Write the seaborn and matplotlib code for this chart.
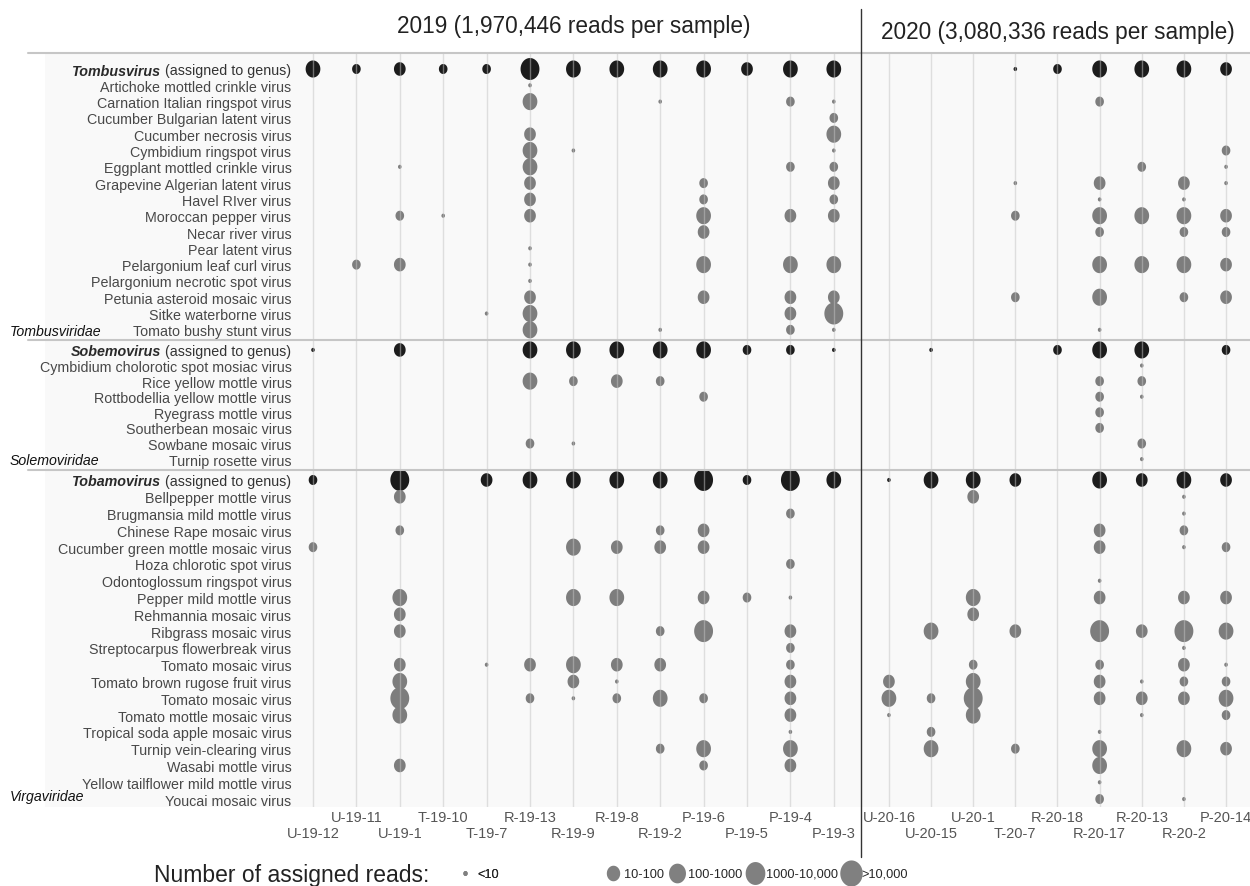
import matplotlib
matplotlib.use("Agg")
import matplotlib.pyplot as plt
import matplotlib.transforms as mtransforms
import numpy as np
import pandas as pd
import seaborn as sns
from matplotlib.lines import Line2D
from matplotlib.patches import Rectangle
from matplotlib.path import Path

samples_2019 = ["U-19-12", "U-19-11", "U-19-1", "T-19-10", "T-19-7", "R-19-13", "R-19-9",
                "R-19-8", "R-19-2", "P-19-6", "P-19-5", "P-19-4", "P-19-3"]
samples_2020 = ["U-20-16", "U-20-15", "U-20-1", "T-20-7", "R-20-18", "R-20-17", "R-20-13",
                "R-20-2", "P-20-14"]
year_titles = ["2019 (1,970,446 reads per sample)", "2020 (3,080,336 reads per sample)"]

read_classes = ["<10", "10-100", "100-1000", "1000-10,000", ">10,000"]

families = ["Tombusviridae", "Solemoviridae", "Virgaviridae"]
genera = ["Tombusvirus", "Sobemovirus", "Tobamovirus"]

tombus_species = ["Artichoke mottled crinkle virus", "Carnation Italian ringspot virus",
                  "Cucumber Bulgarian latent virus", "Cucumber necrosis virus",
                  "Cymbidium ringspot virus", "Eggplant mottled crinkle virus",
                  "Grapevine Algerian latent virus", "Havel RIver virus", "Moroccan pepper virus",
                  "Necar river virus", "Pear latent virus", "Pelargonium leaf curl virus",
                  "Pelargonium necrotic spot virus", "Petunia asteroid mosaic virus",
                  "Sitke waterborne virus", "Tomato bushy stunt virus"]
sobemo_species = ["Cymbidium cholorotic spot mosiac virus", "Rice yellow mottle virus",
                  "Rottbodellia yellow mottle virus", "Ryegrass mottle virus",
                  "Southerbean mosaic virus", "Sowbane mosaic virus", "Turnip rosette virus"]
tobamo_species = ["Bellpepper mottle virus", "Brugmansia mild mottle virus",
                  "Chinese Rape mosaic virus", "Cucumber green mottle mosaic virus",
                  "Hoza chlorotic spot virus", "Odontoglossum ringspot virus",
                  "Pepper mild mottle virus", "Rehmannia mosaic virus", "Ribgrass mosaic virus",
                  "Streptocarpus flowerbreak virus", "Tomato mosaic virus",
                  "Tomato brown rugose fruit virus", "Tomato mosaic virus",
                  "Tomato mottle mosaic virus", "Tropical soda apple mosaic virus",
                  "Turnip vein-clearing virus", "Wasabi mottle virus",
                  "Yellow tailflower mild mottle virus", "Youcai mosaic virus"]

# read class per sample: 0 = none, 1 = <10, 2 = 10-100, 3 = 100-1000, 4 = 1000-10,000, 5 = >10,000
# columns: 13 samples of 2019, then 9 samples of 2020; first row = reads assigned to genus
tombus_reads = [
    [4, 2, 3, 2, 2, 5, 4, 4, 4, 4, 3, 4, 4,  0, 0, 0, 1, 2, 4, 4, 4, 3],
    [0, 0, 0, 0, 0, 1, 0, 0, 0, 0, 0, 0, 0,  0, 0, 0, 0, 0, 0, 0, 0, 0],
    [0, 0, 0, 0, 0, 4, 0, 0, 1, 0, 0, 2, 1,  0, 0, 0, 0, 0, 2, 0, 0, 0],
    [0, 0, 0, 0, 0, 0, 0, 0, 0, 0, 0, 0, 2,  0, 0, 0, 0, 0, 0, 0, 0, 0],
    [0, 0, 0, 0, 0, 3, 0, 0, 0, 0, 0, 0, 4,  0, 0, 0, 0, 0, 0, 0, 0, 0],
    [0, 0, 0, 0, 0, 4, 1, 0, 0, 0, 0, 0, 1,  0, 0, 0, 0, 0, 0, 0, 0, 2],
    [0, 0, 1, 0, 0, 4, 0, 0, 0, 0, 0, 2, 2,  0, 0, 0, 0, 0, 0, 2, 0, 1],
    [0, 0, 0, 0, 0, 3, 0, 0, 0, 2, 0, 0, 3,  0, 0, 0, 1, 0, 3, 0, 3, 1],
    [0, 0, 0, 0, 0, 3, 0, 0, 0, 2, 0, 0, 2,  0, 0, 0, 0, 0, 1, 0, 1, 0],
    [0, 0, 2, 1, 0, 3, 0, 0, 0, 4, 0, 3, 3,  0, 0, 0, 2, 0, 4, 4, 4, 3],
    [0, 0, 0, 0, 0, 0, 0, 0, 0, 3, 0, 0, 0,  0, 0, 0, 0, 0, 2, 0, 2, 2],
    [0, 0, 0, 0, 0, 1, 0, 0, 0, 0, 0, 0, 0,  0, 0, 0, 0, 0, 0, 0, 0, 0],
    [0, 2, 3, 0, 0, 1, 0, 0, 0, 4, 0, 4, 4,  0, 0, 0, 0, 0, 4, 4, 4, 3],
    [0, 0, 0, 0, 0, 1, 0, 0, 0, 0, 0, 0, 0,  0, 0, 0, 0, 0, 0, 0, 0, 0],
    [0, 0, 0, 0, 0, 3, 0, 0, 0, 3, 0, 3, 3,  0, 0, 0, 2, 0, 4, 0, 2, 3],
    [0, 0, 0, 0, 1, 4, 0, 0, 0, 0, 0, 3, 5,  0, 0, 0, 0, 0, 0, 0, 0, 0],
    [0, 0, 0, 0, 0, 4, 0, 0, 1, 0, 0, 2, 1,  0, 0, 0, 0, 0, 1, 0, 0, 0],
]
sobemo_reads = [
    [1, 0, 3, 0, 0, 4, 4, 4, 4, 4, 2, 2, 1,  0, 1, 0, 0, 2, 4, 4, 0, 2],
    [0, 0, 0, 0, 0, 0, 0, 0, 0, 0, 0, 0, 0,  0, 0, 0, 0, 0, 0, 1, 0, 0],
    [0, 0, 0, 0, 0, 4, 2, 3, 2, 0, 0, 0, 0,  0, 0, 0, 0, 0, 2, 2, 0, 0],
    [0, 0, 0, 0, 0, 0, 0, 0, 0, 2, 0, 0, 0,  0, 0, 0, 0, 0, 2, 1, 0, 0],
    [0, 0, 0, 0, 0, 0, 0, 0, 0, 0, 0, 0, 0,  0, 0, 0, 0, 0, 2, 0, 0, 0],
    [0, 0, 0, 0, 0, 0, 0, 0, 0, 0, 0, 0, 0,  0, 0, 0, 0, 0, 2, 0, 0, 0],
    [0, 0, 0, 0, 0, 2, 1, 0, 0, 0, 0, 0, 0,  0, 0, 0, 0, 0, 0, 2, 0, 0],
    [0, 0, 0, 0, 0, 0, 0, 0, 0, 0, 0, 0, 0,  0, 0, 0, 0, 0, 0, 1, 0, 0],
]
tobamo_reads = [
    [2, 0, 5, 0, 3, 4, 4, 4, 4, 5, 2, 5, 4,  1, 4, 4, 3, 0, 4, 3, 4, 3],
    [0, 0, 3, 0, 0, 0, 0, 0, 0, 0, 0, 0, 0,  0, 0, 3, 0, 0, 0, 0, 1, 0],
    [0, 0, 0, 0, 0, 0, 0, 0, 0, 0, 0, 2, 0,  0, 0, 0, 0, 0, 0, 0, 1, 0],
    [0, 0, 2, 0, 0, 0, 0, 0, 2, 3, 0, 0, 0,  0, 0, 0, 0, 0, 3, 0, 2, 0],
    [2, 0, 0, 0, 0, 0, 4, 3, 3, 3, 0, 0, 0,  0, 0, 0, 0, 0, 3, 0, 1, 2],
    [0, 0, 0, 0, 0, 0, 0, 0, 0, 0, 0, 2, 0,  0, 0, 0, 0, 0, 0, 0, 0, 0],
    [0, 0, 0, 0, 0, 0, 0, 0, 0, 0, 0, 0, 0,  0, 0, 0, 0, 0, 1, 0, 0, 0],
    [0, 0, 4, 0, 0, 0, 4, 4, 0, 3, 2, 1, 0,  0, 0, 4, 0, 0, 3, 0, 3, 3],
    [0, 0, 3, 0, 0, 0, 0, 0, 0, 0, 0, 0, 0,  0, 0, 3, 0, 0, 0, 0, 0, 0],
    [0, 0, 3, 0, 0, 0, 0, 0, 2, 5, 0, 3, 0,  0, 4, 0, 3, 0, 5, 3, 5, 4],
    [0, 0, 0, 0, 0, 0, 0, 0, 0, 0, 0, 2, 0,  0, 0, 0, 0, 0, 0, 0, 1, 0],
    [0, 0, 3, 0, 1, 3, 4, 3, 3, 0, 0, 2, 0,  0, 0, 2, 0, 0, 2, 0, 3, 1],
    [0, 0, 4, 0, 0, 0, 3, 1, 0, 0, 0, 3, 0,  3, 0, 4, 0, 0, 3, 1, 2, 2],
    [0, 0, 5, 0, 0, 2, 1, 2, 4, 2, 0, 3, 0,  4, 2, 5, 0, 0, 3, 3, 3, 4],
    [0, 0, 4, 0, 0, 0, 0, 0, 0, 0, 0, 3, 0,  1, 0, 4, 0, 0, 0, 1, 0, 2],
    [0, 0, 0, 0, 0, 0, 0, 0, 0, 0, 0, 1, 0,  0, 2, 0, 0, 0, 1, 0, 0, 0],
    [0, 0, 0, 0, 0, 0, 0, 0, 2, 4, 0, 4, 0,  0, 4, 0, 2, 0, 4, 0, 4, 3],
    [0, 0, 3, 0, 0, 0, 0, 0, 0, 2, 0, 3, 0,  0, 0, 0, 0, 0, 4, 0, 0, 0],
    [0, 0, 0, 0, 0, 0, 0, 0, 0, 0, 0, 0, 0,  0, 0, 0, 0, 0, 1, 0, 0, 0],
    [0, 0, 0, 0, 0, 0, 0, 0, 0, 0, 0, 0, 0,  0, 0, 0, 0, 0, 2, 0, 1, 0],
]

# ---- layout ----
W, H = 1250, 887
samples = samples_2019 + samples_2020
x_pos = list(range(len(samples_2019))) + [13.27 + 0.971 * j for j in range(len(samples_2020))]
block_start = [0.0, 17.13, 25.06]
block_step = [0.994, 0.951, 1.024]
blocks = [(tombus_species, tombus_reads), (sobemo_species, sobemo_reads), (tobamo_species, tobamo_reads)]

records = []
ypos, ylabels, genus_rows, block_edges = [], [], [], []
for b, (species, reads) in enumerate(blocks):
    names = [genera[b]] + species
    for k, (name, row) in enumerate(zip(names, reads)):
        y = block_start[b] + k * block_step[b]
        ypos.append(y)
        ylabels.append("(assigned to genus)" if k == 0 else name)
        if k == 0:
            genus_rows.append(len(ypos) - 1)
        for s, code in enumerate(row):
            if code:
                records.append({"x": x_pos[s], "y": y,
                                "level": "genus" if k == 0 else "species",
                                "reads": read_classes[code - 1]})
    block_edges.append((block_start[b], block_start[b] + (len(names) - 1) * block_step[b]))
df = pd.DataFrame(records)

sns.set_style("white")
plt.rcParams["font.family"] = ["Liberation Sans", "DejaVu Sans"]

fig = plt.figure(figsize=(W / 100, H / 100), dpi=100)
ax_left, ax_right, ax_top, ax_bottom = 297, 1250, 54, 808
ax = fig.add_axes([ax_left / W, 1 - ax_bottom / H, (ax_right - ax_left) / W, (ax_bottom - ax_top) / H])
panel = "#f9f9f9"
ax.set_facecolor(panel)
fig.add_artist(Rectangle((45 / W, 1 - ax_bottom / H), (ax_left - 45) / W, (ax_bottom - ax_top) / H,
                         transform=fig.transFigure, facecolor=panel, edgecolor="none", zorder=-1))

# slightly tall ellipse marker, like the original
t = np.linspace(0, 2 * np.pi, 73)
ellipse = Path(np.column_stack([0.86 * np.cos(t), np.sin(t)]), closed=True)

size_map = dict(zip(read_classes, [9, 52, 96, 152, 250]))
sns.scatterplot(data=df, x="x", y="y", hue="level", palette={"genus": "#1c1c1c", "species": "#7d7d7d"},
                size="reads", sizes=size_map, size_order=read_classes, marker=ellipse,
                linewidth=0, legend=False, ax=ax, zorder=1)

u = 43.4
ax.set_xlim((ax_left - 313) / u, (ax_right - 313) / u)
ax.set_ylim((ax_bottom - 70) / 16.4, (ax_top - 70) / 16.4)
for sp in ax.spines.values():
    sp.set_visible(False)
ax.set_xlabel("")
ax.set_ylabel("")

ax.set_yticks(ypos, ylabels)
ax.tick_params(axis="y", length=0, pad=4, labelsize=10.3, labelcolor="#484848")

even = [i for i in range(len(samples)) if i % 2 == 0]
odd = [i for i in range(len(samples)) if i % 2 == 1]
ax.set_xticks([x_pos[i] for i in even], [samples[i] for i in even])
ax.set_xticks([x_pos[i] for i in odd], [samples[i] for i in odd], minor=True)
ax.tick_params(axis="x", which="major", length=0, pad=14, labelsize=10.5, labelcolor="#555555")
ax.tick_params(axis="x", which="minor", length=0, pad=2, labelsize=10.5, labelcolor="#555555")
ax.grid(axis="x", which="both", color="#c4c4c4", alpha=0.5, lw=1.0)
ax.grid(axis="y", visible=False)
ax.set_axisbelow(False)

# genus names in bold italic in front of "(assigned to genus)"
fig.canvas.draw()
labels = ax.get_yticklabels()
for b, r in enumerate(genus_rows):
    labels[r].set_color("#333333")
    ax.annotate(genera[b], xy=(0, 0.5), xycoords=labels[r], xytext=(-3, 0), textcoords="offset points",
                ha="right", va="center", fontsize=10.3, fontweight="bold", fontstyle="italic", color="#2a2a2a")

# family names and separators
fx = mtransforms.blended_transform_factory(fig.transFigure, ax.transData)
fam_dy = [0.1, 0.05, -0.2]
for b, (top, bot) in enumerate(block_edges):
    ax.text(10 / W, bot + fam_dy[b], families[b], transform=fx, ha="left", va="center",
            fontsize=10.2, fontstyle="italic", color="#111111")
sep_y = [ax.get_ylim()[1]] + [(block_edges[b][1] + block_edges[b + 1][0]) / 2 for b in range(2)]
for y in sep_y:
    fig.add_artist(Line2D([28 / W, 1], [y, y], transform=fx, color="#c6c6c6", lw=1.5, zorder=3))

# year divider and titles
xf = mtransforms.blended_transform_factory(ax.transData, fig.transFigure)
x_div = (x_pos[len(samples_2019) - 1] + x_pos[len(samples_2019)]) / 2
fig.add_artist(Line2D([x_div, x_div], [1 - 10 / H, 1 - 858 / H], transform=xf, color="#333333", lw=1.0, zorder=4))
fig.text(np.mean(x_pos[:13]), 1 - 27 / H, year_titles[0], transform=xf, ha="center", va="center",
         fontsize=16.3, color="#222222")
fig.text(np.mean(x_pos[13:]), 1 - 32 / H, year_titles[1], transform=xf, ha="center", va="center",
         fontsize=16.3, color="#222222")

# legend
fig.text(154 / W, 1 - 876 / H, "Number of assigned reads:", ha="left", va="center", fontsize=16.5, color="#222222")
leg_ms = [3.6, 11.2, 14.2, 16.5, 18.8]
handles = [Line2D([], [], marker=ellipse, ls="none", color="#808080", markersize=m, mew=0) for m in leg_ms]
leg_font = {"size": 9.2}
l1 = fig.legend(handles[:1], read_classes[:1], loc="center left", bbox_to_anchor=(458 / W, 1 - 875 / H),
                frameon=False, borderpad=0, borderaxespad=0, handlelength=1.1, handletextpad=0.4,
                prop=leg_font)
fig.add_artist(l1)
fig.legend(handles[1:], read_classes[1:], loc="center left", bbox_to_anchor=(606 / W, 1 - 875 / H),
           ncol=4, frameon=False, borderpad=0, borderaxespad=0, handlelength=1.1, handletextpad=0.3,
           columnspacing=0.47, prop=leg_font)

fig.savefig("out.png", dpi=100)
